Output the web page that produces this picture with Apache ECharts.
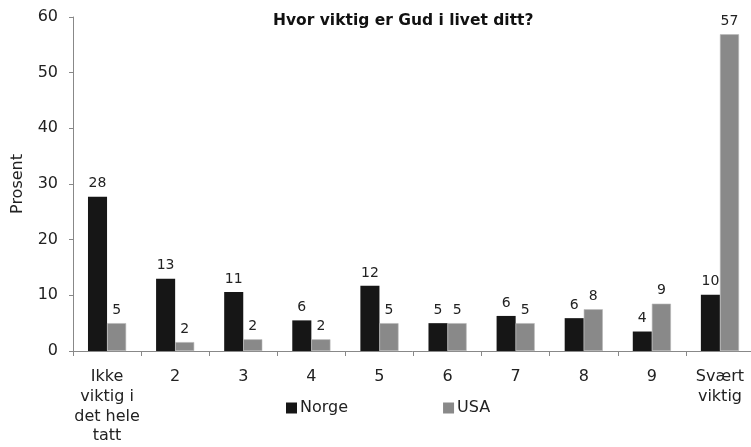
<!DOCTYPE html>
<html>
<head>
<meta charset="utf-8">
<script src="https://cdn.jsdelivr.net/npm/echarts@6/dist/echarts.min.js"></script>
<style>
    html, body { margin: 0; padding: 0; background: #fff; }
    #chart { width: 751px; height: 447px; }
</style>
</head>
<body>
<div id="chart"></div>
<script>
// data
var categories = ['Ikke\nviktig i\ndet hele\ntatt', '2', '3', '4', '5', '6', '7', '8', '9', 'Svært\nviktig'];
var norge = [27.7, 13.0, 10.6, 5.5, 11.7, 5.0, 6.3, 5.9, 3.5, 10.1];
var usa = [5.0, 1.6, 2.1, 2.1, 5.0, 5.0, 5.0, 7.5, 8.5, 56.9];

var chart = echarts.init(document.getElementById('chart'));
var font = 'DejaVu Sans';

// labels show rounded percentages
var barLabel = {
    show: true,
    position: 'top',
    distance: 6,
    color: '#222',
    fontSize: 14,
    fontFamily: font,
    formatter: function (p) { return Math.round(p.value); }
};

var option = {
    animation: false,
    textStyle: { fontFamily: font },
    title: {
        text: 'Hvor viktig er Gud i livet ditt?',
        left: 273,
        top: 13,
        padding: 0,
        textStyle: { fontSize: 15.5, fontWeight: 'bold', color: '#111', fontFamily: font }
    },
    legend: {
        top: 400,
        left: 286,
        padding: 0,
        itemGap: 95,
        itemWidth: 11,
        itemHeight: 11,
        icon: 'rect',
        itemStyle: { borderWidth: 0 },
        textStyle: { fontSize: 16, color: '#222', fontFamily: font, padding: [0, 0, 0, -2] },
        data: ['Norge', 'USA']
    },
    grid: {
        left: 73,
        top: 17,
        width: 681,
        bottom: 96,
        outerBoundsMode: 'none',
        containLabel: false
    },
    xAxis: {
        type: 'category',
        data: categories,
        axisLine: { lineStyle: { color: '#888' } },
        axisTick: { show: true, length: 5, lineStyle: { color: '#888' } },
        axisLabel: { color: '#222', fontSize: 16, fontFamily: font, margin: 16, lineHeight: 19.8, interval: 0 }
    },
    yAxis: {
        type: 'value',
        min: 0,
        max: 60,
        interval: 10,
        name: 'Prosent',
        nameLocation: 'middle',
        nameGap: 47,
        nameTextStyle: { fontSize: 16, color: '#222', fontFamily: font },
        splitLine: { show: false },
        axisLine: { show: true, lineStyle: { color: '#888' } },
        axisTick: { show: true, length: 4, lineStyle: { color: '#888' } },
        axisLabel: { color: '#222', fontSize: 16, fontFamily: font, margin: 15 }
    },
    series: [
        {
            name: 'Norge',
            type: 'bar',
            data: norge,
            barGap: '0%',
            barCategoryGap: '44%',
            itemStyle: { color: '#161616' },
            label: barLabel
        },
        {
            name: 'USA',
            type: 'bar',
            data: usa,
            itemStyle: { color: '#898989', borderColor: '#b8b8b8', borderWidth: 0.6 },
            label: barLabel
        }
    ]
};

chart.setOption(option);
</script>
</body>
</html>
